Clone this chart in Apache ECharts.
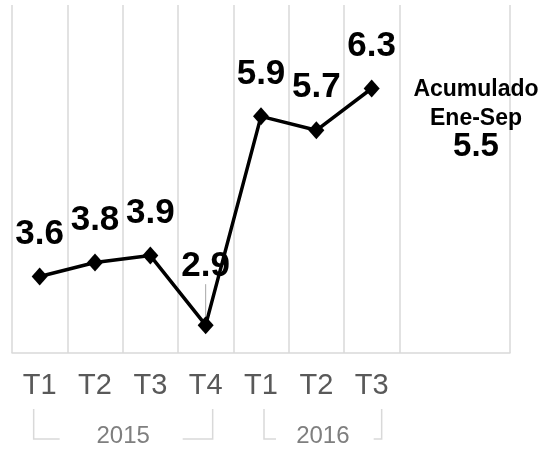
<!DOCTYPE html>
<html lang="es">
<head>
<meta charset="utf-8">
<title>Crecimiento trimestral</title>
<script src="https://cdn.jsdelivr.net/npm/echarts@6/dist/echarts.min.js"></script>
<style>
    html, body { margin: 0; padding: 0; background: #fff; }
    #chart { width: 546px; height: 450px; }
</style>
</head>
<body>
<div id="chart"></div>
<script>
    // trimestres (los dos últimos huecos quedan vacíos)
    var quarters = ['T1', 'T2', 'T3', 'T4', 'T1', 'T2', 'T3', '', ''];
    var values = [3.6, 3.8, 3.9, 2.9, 5.9, 5.7, 6.3];
    var years = ['2015', '2016'];
    var yearFrom = [0, 4];
    var yearTo = [3, 6];
    var accumTitle = ['Acumulado', 'Ene-Sep'];
    var accumValue = '5.5';

    var font = "'Liberation Sans', Arial, sans-serif";
    var grey = '#d9d9d9';
    var chart = echarts.init(document.getElementById('chart'));

    var lineData = values.map(function (v, i) {
        if (i === 3) {
            // etiqueta del 2.9 más arriba con línea guía
            return {
                value: v,
                label: {distance: 32},
                labelLine: {show: true, lineStyle: {color: '#a6a6a6', width: 1}}
            };
        }
        return v;
    });

    chart.setOption({
        animation: false,
        grid: {left: 12, right: 36, top: 5, bottom: 97},
        xAxis: {
            type: 'category',
            data: quarters,
            boundaryGap: true,
            axisLine: {lineStyle: {color: grey, width: 1.5}},
            axisTick: {length: 9, interval: 0, lineStyle: {color: grey, width: 1.5}},
            axisLabel: {interval: 0, margin: 18, color: '#595959', fontSize: 29, fontFamily: font},
            splitLine: {
                show: true,
                interval: function (i) { return i !== 8; },
                lineStyle: {color: grey, width: 1.5}
            }
        },
        yAxis: {type: 'value', min: 2.5, max: 7.5, show: false},
        series: [{
            type: 'line',
            data: lineData,
            symbol: 'diamond',
            symbolSize: [16, 18],
            itemStyle: {color: '#000'},
            lineStyle: {color: '#000', width: 3.5},
            label: {
                show: true, position: 'top', distance: 16,
                color: '#000', fontSize: 35, fontWeight: 'bold', fontFamily: font
            }
        }]
    });

    // corchetes de los años bajo el eje
    var axisY = chart.convertToPixel({yAxisIndex: 0}, 2.5);
    var pad = [[-6, 7], [3, 10]];
    var seg = [[26, 30], [12, 8]];
    var brTop = axisY + 56, brBottom = axisY + 86;
    var graphics = [];

    years.forEach(function (y, k) {
        var x0 = chart.convertToPixel({xAxisIndex: 0}, yearFrom[k]) + pad[k][0];
        var x1 = chart.convertToPixel({xAxisIndex: 0}, yearTo[k]) + pad[k][1];
        graphics.push({
            type: 'polyline', silent: true,
            shape: {points: [[x0 + seg[k][0], brBottom], [x0, brBottom], [x0, brTop]]},
            style: {stroke: grey, lineWidth: 1.5, fill: null}
        });
        graphics.push({
            type: 'polyline', silent: true,
            shape: {points: [[x1 - seg[k][1], brBottom], [x1, brBottom], [x1, brTop]]},
            style: {stroke: grey, lineWidth: 1.5, fill: null}
        });
        graphics.push({
            type: 'text', silent: true,
            x: (x0 + x1) / 2, y: brBottom - 3,
            style: {
                text: y, fill: '#7f7f7f', font: '24px ' + font,
                textAlign: 'center', verticalAlign: 'middle'
            }
        });
    });

    // nota del acumulado
    var noteX = 476;
    accumTitle.forEach(function (t, k) {
        graphics.push({
            type: 'text', silent: true,
            x: noteX, y: 90 + k * 28.5,
            style: {
                text: t, fill: '#000', font: 'bold 23px ' + font,
                textAlign: 'center', verticalAlign: 'middle'
            }
        });
    });
    graphics.push({
        type: 'text', silent: true,
        x: noteX, y: 147,
        style: {
            text: accumValue, fill: '#000', font: 'bold 33px ' + font,
            textAlign: 'center', verticalAlign: 'middle'
        }
    });

    chart.setOption({graphic: graphics});
</script>
</body>
</html>
